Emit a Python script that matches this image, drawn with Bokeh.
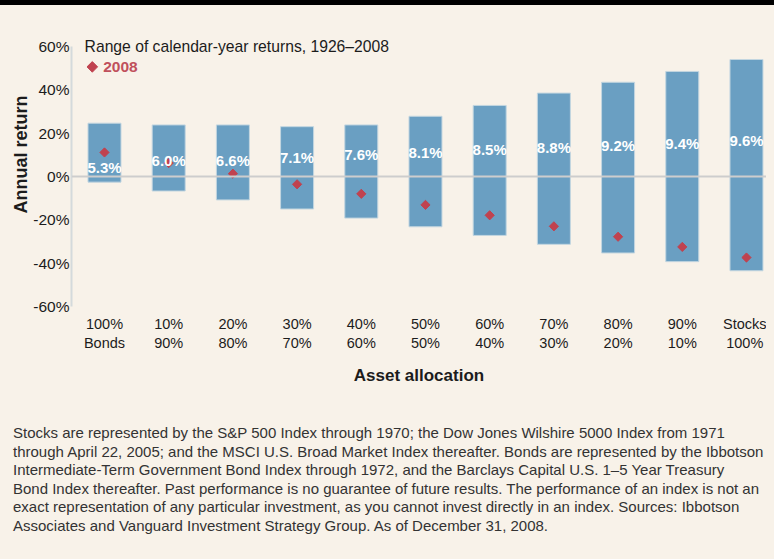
from math import pi

from bokeh.core.properties import value
from bokeh.embed import file_html
from bokeh.layouts import column
from bokeh.models import (ColumnDataSource, Div, FixedTicker, Label,
                          PrintfTickFormatter, Range1d, Span, Title)
from bokeh.plotting import figure
from bokeh.resources import INLINE

# ---------------- data ----------------
allocations = ["100%\nBonds", "10%\n90%", "20%\n80%", "30%\n70%", "40%\n60%",
               "50%\n50%", "60%\n40%", "70%\n30%", "80%\n20%", "90%\n10%",
               "Stocks\n100%"]
range_high = [24.6, 23.8, 23.8, 23.0, 23.8, 27.8, 32.8, 38.5, 43.5, 48.5, 54.0]
range_low = [-2.6, -6.7, -10.8, -15.0, -19.2, -23.2, -27.2, -31.3, -35.3, -39.3, -43.5]
returns_2008 = [11.1, 6.2, 1.3, -3.6, -8.0, -13.1, -17.9, -23.0, -27.8, -32.5, -37.4]
average_return = [5.3, 6.0, 6.6, 7.1, 7.6, 8.1, 8.5, 8.8, 9.2, 9.4, 9.6]
y_ticks = [-60, -40, -20, 0, 20, 40, 60]

footnote_lines = [
    "Stocks are represented by the S&amp;P 500 Index through 1970; the Dow Jones Wilshire 5000 Index from 1971",
    "through April 22, 2005; and the MSCI U.S. Broad Market Index thereafter. Bonds are represented by the Ibbotson",
    "Intermediate-Term Government Bond Index through 1972, and the Barclays Capital U.S. 1\u20135 Year Treasury",
    "Bond Index thereafter. Past performance is no guarantee of future results. The performance of an index is not an",
    "exact representation of any particular investment, as you cannot invest directly in an index. Sources: Ibbotson",
    "Associates and Vanguard Investment Strategy Group. As of December 31, 2008.",
]

# ---------------- styling ----------------
BG = "#f8f2e9"
BAR = "#6a9fc2"
RED = "#c0424f"
RED_TXT = "#c0505c"
TXT = "#1c1c1c"
SANS = "Liberation Sans"

# vertical placement of the average-return labels inside each bar
label_y = [4.1, 7.2, 7.5, 8.6, 10.1, 11.1, 12.3, 13.4, 14.2, 15.4, 16.8]
# legend key position (data units)
key_x, key_y = -0.19, 50.6

idx = list(range(len(allocations)))
src = ColumnDataSource(dict(
    x=idx, high=range_high, low=range_low, r08=returns_2008,
    avg_txt=[f"{v:.1f}%" for v in average_return], label_y=label_y,
))

p = figure(width=758, height=387,
           x_range=Range1d(-0.514, 10.312), y_range=Range1d(-60, 66),
           output_backend="svg", toolbar_location=None,
           min_border_left=63, min_border_right=0,
           min_border_top=25, min_border_bottom=89,
           background_fill_color=BG, border_fill_color=BG,
           outline_line_color=None)
p.grid.visible = False

# x axis
xa = p.xaxis[0]
xa.ticker = FixedTicker(ticks=idx)
xa.major_label_overrides = {i: lab for i, lab in enumerate(allocations)}
xa.axis_line_color = None
xa.major_tick_line_color = None
xa.minor_tick_line_color = None
xa.major_tick_out = 0
xa.major_tick_in = 0
xa.major_label_standoff = 9
xa.major_label_text_font = SANS
xa.major_label_text_font_size = "14.5px"
xa.major_label_text_line_height = 1.2
xa.major_label_text_color = TXT
xa.axis_label = "Asset allocation"
xa.axis_label_text_font = SANS
xa.axis_label_text_font_style = "bold"
xa.axis_label_text_font_size = "17px"
xa.axis_label_text_color = TXT
xa.axis_label_standoff = 12

# y axis
ya = p.yaxis[0]
ya.ticker = FixedTicker(ticks=y_ticks)
ya.formatter = PrintfTickFormatter(format="%d%%")
ya.bounds = (-60, 60)
ya.axis_line_color = "#d4dadc"
ya.axis_line_width = 2
ya.major_tick_line_color = None
ya.minor_tick_line_color = None
ya.major_tick_out = 0
ya.major_tick_in = 0
ya.major_label_standoff = 2
ya.major_label_text_font = SANS
ya.major_label_text_font_size = "15.5px"
ya.major_label_text_color = TXT

p.add_layout(Title(text="Annual return", align="left", offset=93, standoff=0,
                   text_font=SANS, text_font_size="18px", text_font_style="bold",
                   text_color=TXT), "left")

# range bars
p.vbar(x="x", bottom="low", top="high", width=0.514, source=src,
       fill_color=BAR, line_color="#c3d6e0", line_width=1)

p.add_layout(Span(location=0, dimension="width", line_color="#cdcdcd", line_width=2))

# 2008 returns
p.scatter(x="x", y="r08", source=src, marker="square", angle=pi / 4,
          size=6.5, fill_color=RED, line_color=RED)

# average-return labels
p.text(x="x", y="label_y", text="avg_txt", source=src, text_color="white",
       text_font=value(SANS), text_font_style="bold", text_font_size="15px",
       text_align="center", text_baseline="middle")

p.add_layout(Label(x=-0.31, y=60, text="Range of calendar-year returns, 1926\u20132008",
                   text_font=SANS, text_font_size="15.7px", text_baseline="middle",
                   text_color=TXT))

# legend key: 2008 marker
p.scatter(x=[key_x], y=[key_y], marker="square", angle=pi / 4, size=7.5,
          fill_color=RED, line_color=RED)
p.add_layout(Label(x=key_x + 0.17, y=key_y, text="2008", text_font=SANS,
                   text_font_size="15.5px", text_font_style="bold",
                   text_baseline="middle", text_color=RED_TXT))

foot = Div(
    text=('<div style="font-family:\'Liberation Sans\';font-size:15px;line-height:18.6px;'
          'color:#333;padding:29px 0 0 5px;white-space:nowrap">'
          + "<br>".join(footnote_lines) + "</div>"),
    width=750, height=140, margin=0,
)

layout = column(p, foot)

html = file_html(layout, INLINE, title="Asset allocation returns")
html = html.replace(
    "</head>",
    "<style>html{background:linear-gradient(#000 0,#000 5px,%s 5px,%s 100%%) no-repeat;"
    "background-color:%s}body{padding:8px !important}</style></head>" % (BG, BG, BG),
    1,
)
open("out.html", "w").write(html)
